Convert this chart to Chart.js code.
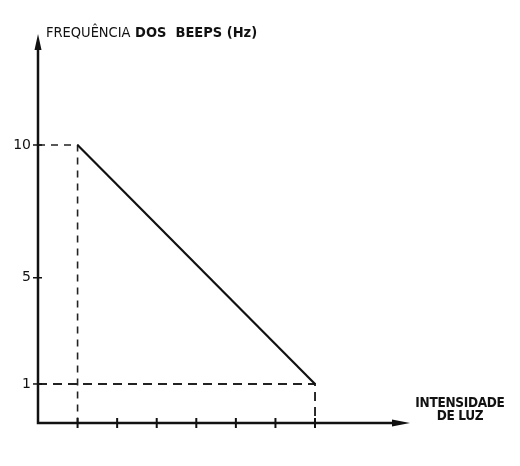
<!DOCTYPE html>
<html>
<head>
<meta charset="utf-8">
<script src="https://cdn.jsdelivr.net/npm/chart.js@4/dist/chart.umd.min.js"></script>
<style>
  html, body { margin: 0; padding: 0; background: #fff; }
  #wrap { position: relative; width: 520px; height: 466px; }
  canvas { position: absolute; left: 0; top: 0; }
  .lbl { position: absolute; color: #111; font-family: "DejaVu Sans Condensed", "Liberation Sans Narrow", "Liberation Sans", sans-serif; white-space: nowrap; line-height: 1; }
  #ytitle { left: 46px; top: 25px; font-size: 14.5px; font-weight: bold; letter-spacing: 0px; }
  #ytitle .light { font-weight: normal; }
  #xtitle { left: 413px; top: 396px; font-size: 13.5px; font-weight: bold; text-align: center; width: 94px; letter-spacing: -0.3px; line-height: 13px; }
</style>
</head>
<body>
<div id="wrap">
  <canvas id="c" width="520" height="466"></canvas>
  <div class="lbl" id="ytitle"><span class="light">FREQUÊNCIA</span> DOS &nbsp;BEEPS (Hz)</div>
  <div class="lbl" id="xtitle">INTENSIDADE<br>DE LUZ</div>
</div>
<script>
// ---- data ----
const lightLevels = [1, 7];          // x positions of the line ends (light intensity ticks)
const beepFreq = [10, 1];            // beep frequency (Hz) at those ends
const yTickValues = [1, 5, 10];      // labelled y ticks
const xTickValues = [1, 2, 3, 4, 5, 6, 7];
const xMin = 0, xMax = 9.4;
const yMin = -0.47, yMax = 14.18;

const solid = lightLevels.map((x, i) => ({ x: x, y: beepFreq[i] }));
const dashTop = [{ x: xMin, y: beepFreq[0] }, { x: lightLevels[0], y: beepFreq[0] }, { x: lightLevels[0], y: yMin }];
const dashBottom = [{ x: xMin, y: beepFreq[1] }, { x: lightLevels[1], y: beepFreq[1] }, { x: lightLevels[1], y: yMin }];

const axisPlugin = {
  id: 'axisDecor',
  afterDraw(chart) {
    const ctx = chart.ctx;
    const xs = chart.scales.x, ys = chart.scales.y;
    const x0 = xs.getPixelForValue(xMin), y0 = ys.getPixelForValue(yMin);
    const xEnd = xs.getPixelForValue(xMax), yTop = ys.getPixelForValue(yMax);
    ctx.save();
    ctx.strokeStyle = '#111';
    ctx.fillStyle = '#111';
    ctx.lineWidth = 2.5;
    ctx.beginPath();
    ctx.moveTo(x0, yTop + 10); ctx.lineTo(x0, y0); ctx.lineTo(xEnd - 12, y0);
    ctx.stroke();
    ctx.beginPath();
    ctx.moveTo(xEnd, y0); ctx.lineTo(xEnd - 18, y0 - 3.5); ctx.lineTo(xEnd - 18, y0 + 3.5); ctx.closePath();
    ctx.fill();
    ctx.beginPath();
    ctx.moveTo(x0, yTop); ctx.lineTo(x0 - 3.5, yTop + 16); ctx.lineTo(x0 + 3.5, yTop + 16); ctx.closePath();
    ctx.fill();
    ctx.lineWidth = 2;
    xTickValues.forEach(v => {
      const px = xs.getPixelForValue(v);
      ctx.beginPath(); ctx.moveTo(px, y0 - 5); ctx.lineTo(px, y0 + 5); ctx.stroke();
    });
    ctx.lineWidth = 1.5;
    yTickValues.forEach(v => {
      const py = ys.getPixelForValue(v);
      ctx.beginPath(); ctx.moveTo(x0 - 5, py); ctx.lineTo(x0 + 4, py); ctx.stroke();
    });
    ctx.restore();
  }
};

new Chart(document.getElementById('c'), {
  type: 'scatter',
  data: {
    datasets: [
      { data: solid, showLine: true, borderColor: '#111', borderWidth: 2.2, pointRadius: 0, fill: false },
      { data: dashTop, showLine: true, borderColor: '#222', borderWidth: 1.6, borderDash: [7, 6], pointRadius: 0, fill: false },
      { data: dashBottom, showLine: true, borderColor: '#222', borderWidth: 1.9, borderDash: [9, 6], pointRadius: 0, fill: false }
    ]
  },
  options: {
    responsive: false,
    animation: false,
    devicePixelRatio: 1,
    layout: { padding: { top: 34, right: 110, left: 0, bottom: 0 } },
    plugins: { legend: { display: false }, tooltip: { enabled: false }, title: { display: false } },
    scales: {
      x: {
        type: 'linear', min: xMin, max: xMax,
        grid: { display: false, drawTicks: false },
        border: { display: false },
        ticks: { display: false },
        afterFit: s => { s.height = 43; }
      },
      y: {
        type: 'linear', min: yMin, max: yMax,
        grid: { display: false, drawTicks: false },
        border: { display: false },
        afterBuildTicks: s => { s.ticks = yTickValues.map(v => ({ value: v })); },
        ticks: {
          color: '#111', padding: 7,
          font: { family: '"DejaVu Sans", "Liberation Sans", sans-serif', size: 14 },
          callback: v => String(v)
        },
        afterFit: s => { s.width = 38; }
      }
    }
  },
  plugins: [axisPlugin]
});
</script>
</body>
</html>
